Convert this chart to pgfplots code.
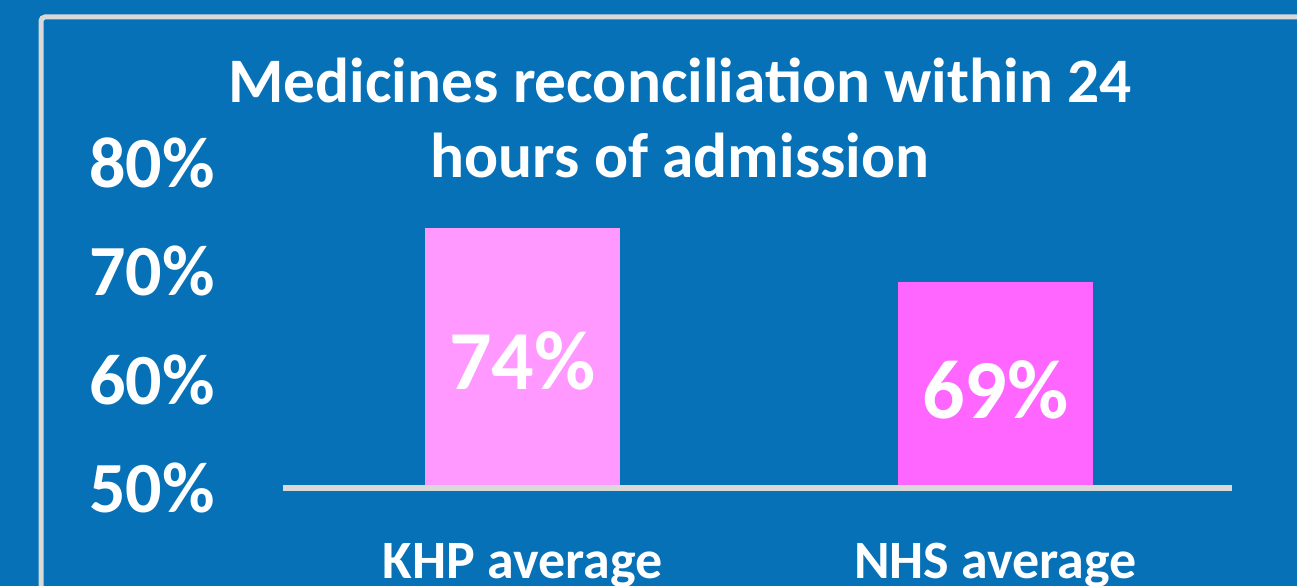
\documentclass[border=0pt]{standalone}
\usepackage{fontspec}
\setmainfont{Carlito}
\usepackage{pgfplots}
\pgfplotsset{compat=1.18}
\definecolor{bgBlue}{RGB}{7,113,184}
\definecolor{frameGrey}{RGB}{217,217,217}
\definecolor{khpPink}{RGB}{255,153,255}
\definecolor{nhsPink}{RGB}{255,102,255}
\begin{document}
\begin{tikzpicture}
% canvas: 1 reference px = 0.5bp
\path[use as bounding box, clip] (0,0) rectangle (648.5bp,293bp);
\fill[bgBlue] (0,0) rectangle (648.5bp,293bp);
\draw[frameGrey, line width=2.5bp, rounded corners=2bp]
  (20.5bp,-25bp) -- (20.5bp,284.5bp) -- (675bp,284.5bp);
\node[text=white, font=\bfseries\fontsize{31.7bp}{37.5bp}\selectfont, align=center]
  at (340bp,234.25bp) {Medicines reconciliation within 24\\hours of admission};
\begin{axis}[
  at={(141.5bp,49bp)}, anchor=south west,
  scale only axis, width=474.5bp, height=162.5bp,
  xmin=0.4937, xmax=2.5, ymin=50, ymax=80,
  ybar, bar width=97.5bp, bar shift=0pt,
  clip=false, axis on top,
  separate axis lines,
  axis x line*=bottom, axis y line*=left,
  x axis line style={draw=frameGrey, line width=2.5bp, -},
  y axis line style={draw=none},
  major tick length=0pt,
  xtick={1,2}, xticklabels={KHP average, NHS average},
  ytick={50,60,70,80}, yticklabels={50\%,60\%,70\%,80\%},
  xticklabel style={text=white, font=\bfseries\fontsize{27bp}{32bp}\selectfont,
    inner sep=0pt, anchor=north, yshift=-27.5bp},
  yticklabel style={text=white, font=\bfseries\fontsize{36bp}{40bp}\selectfont,
    inner sep=0pt, anchor=east, xshift=-34bp},
]
\addplot[fill=khpPink, draw=none] coordinates {(1,74)};
\addplot[fill=nhsPink, draw=none] coordinates {(2,69)};
\node[text=white, font=\bfseries\fontsize{42bp}{48bp}\selectfont] at (axis cs:1,61.7) {74\%};
\node[text=white, font=\bfseries\fontsize{42bp}{48bp}\selectfont] at (axis cs:2,59.1) {69\%};
\end{axis}
\end{tikzpicture}
\end{document}
